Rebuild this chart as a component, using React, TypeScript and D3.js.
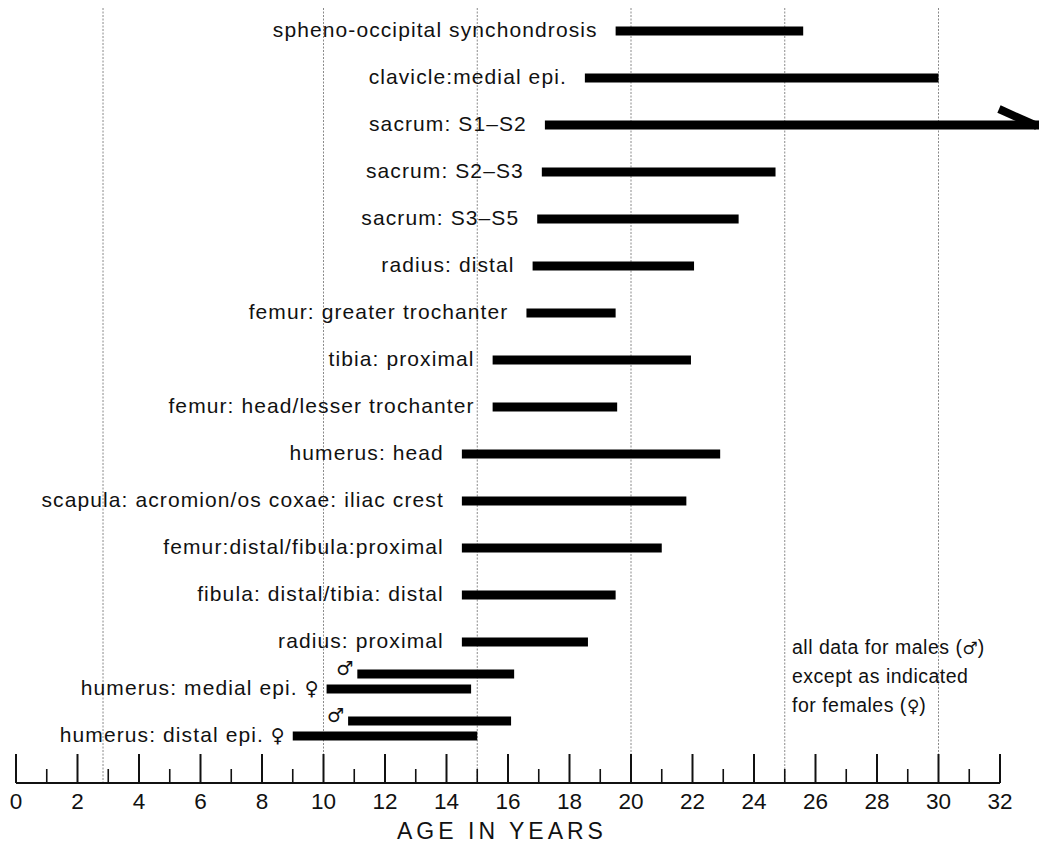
import { useEffect } from 'react'
import * as d3 from 'd3'

// Ages of epiphyseal union (years)
const LABELS = [
  'spheno-occipital synchondrosis',
  'clavicle:medial epi.',
  'sacrum: S1–S2',
  'sacrum: S2–S3',
  'sacrum: S3–S5',
  'radius: distal',
  'femur: greater trochanter',
  'tibia: proximal',
  'femur: head/lesser trochanter',
  'humerus: head',
  'scapula: acromion/os coxae: iliac crest',
  'femur:distal/fibula:proximal',
  'fibula: distal/tibia: distal',
  'radius: proximal',
  'humerus: medial epi. ♀',
  'humerus: distal epi. ♀',
]
const START = [19.5, 18.5, 17.2, 17.1, 16.95, 16.8, 16.6, 15.5, 15.5, 14.5, 14.5, 14.5, 14.5, 14.5, 10.1, 9.0]
const END = [25.6, 30.0, 33.3, 24.7, 23.5, 22.05, 19.5, 21.95, 19.55, 22.9, 21.8, 21.0, 19.5, 18.6, 14.8, 15.0]
// extra male bars on the two humerus rows
const MALE_ROWS = [14, 15]
const MALE_START = [11.1, 10.8]
const MALE_END = [16.2, 16.1]
// open-ended row (arrow)
const ARROW_ROW = 2

const GRID = [2.83, 10, 15, 20, 25, 30]
const TICKS = d3.range(0, 33)
const NOTE = ['all data for males (♂)', 'except as indicated', 'for females (♀)']

const W = 1039
const H = 844
const FONT = '"Liberation Sans", Arial, Helvetica, sans-serif'
const SYM_FONT = '"DejaVu Sans", sans-serif'

// put the sex symbols in a font that has proper glyphs for them
function withSymbols(s: string, size: number) {
  return s.split(/([♀♂])/).filter(Boolean).map((part, i) =>
    part === '♀' || part === '♂'
      ? <tspan key={i} fontFamily={SYM_FONT} fontSize={size} letterSpacing={0}>{part}</tspan>
      : <tspan key={i}>{part}</tspan>
  )
}

export default function App() {
  useEffect(() => {
    document.body.style.margin = '0'
  }, [])

  const x = d3.scaleLinear().domain([0, 32]).range([16, 1000])
  const y = d3.scalePoint<number>().domain(d3.range(LABELS.length)).range([31, 736])
  const axisY = 783
  const barH = 9

  return (
    <svg width={W} height={H} style={{ display: 'block', background: '#fff', fontFamily: FONT }}>
      {/* dotted grid */}
      {GRID.map(g => (
        <line key={g} x1={x(g)} x2={x(g)} y1={8} y2={axisY}
          stroke="#8a8a8a" strokeWidth={1} strokeDasharray="2,1.5" />
      ))}

      {/* bars + labels */}
      {LABELS.map((lab, i) => {
        const cy = y(i)!
        const paired = MALE_ROWS.includes(i)
        const x0 = x(START[i])
        const x1 = x(END[i])
        return (
          <g key={lab}>
            <rect x={x0} y={cy - barH / 2} width={x1 - x0} height={barH} fill="#000" />
            <text x={x0 - (paired ? 8 : 18)} y={cy + 6} textAnchor="end"
              fontSize={21} letterSpacing={1.1} fill="#111">{withSymbols(lab, 19)}</text>
            {i === ARROW_ROW && (
              <line x1={x1 - 3} y1={cy + 1} x2={x1 - 41} y2={cy - 16}
                stroke="#000" strokeWidth={8} />
            )}
          </g>
        )
      })}

      {/* male bars */}
      {MALE_ROWS.map((r, k) => {
        const cy = y(r)! - 15
        const x0 = x(MALE_START[k])
        const x1 = x(MALE_END[k])
        return (
          <g key={'m' + r}>
            <rect x={x0} y={cy - barH / 2} width={x1 - x0} height={barH} fill="#000" />
            <text x={x0 - 4} y={cy + 1} textAnchor="end" fontSize={19} fill="#111"
              fontFamily={SYM_FONT}>♂</text>
          </g>
        )
      })}

      {/* note */}
      {NOTE.map((t, i) => (
        <text key={t} x={792} y={654 + i * 29} fontSize={19.5} letterSpacing={0.5} fill="#111">
          {withSymbols(t, 17)}
        </text>
      ))}

      {/* axis */}
      <line x1={x(0)} x2={x(32)} y1={axisY} y2={axisY} stroke="#111" strokeWidth={2} />
      {TICKS.map(t => (
        <g key={t}>
          <line x1={x(t)} x2={x(t)} y1={axisY} y2={t % 2 === 0 ? axisY - 29 : axisY - 14}
            stroke="#111" strokeWidth={t % 2 === 0 ? 2 : 1.6} />
          {t % 2 === 0 && (
            <text x={x(t)} y={axisY + 26} textAnchor="middle" fontSize={22.5} fill="#111">{t}</text>
          )}
        </g>
      ))}
      <text x={(x(0) + x(32)) / 2 - 6} y={839} textAnchor="middle" fontSize={23}
        letterSpacing={4} fill="#111">AGE IN YEARS</text>
    </svg>
  )
}
